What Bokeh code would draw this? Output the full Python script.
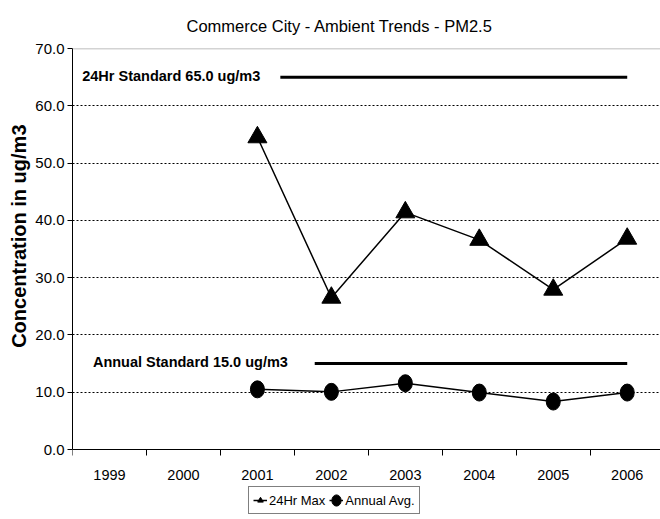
from bokeh.plotting import figure
from bokeh.embed import file_html
from bokeh.resources import INLINE
from bokeh.models import (Range1d, FixedTicker, NumeralTickFormatter, Label, Span, Title,
                          Legend, LegendItem, ColumnDataSource)

# ---- data ----
years = ["1999", "2000", "2001", "2002", "2003", "2004", "2005", "2006"]
data_years = ["2001", "2002", "2003", "2004", "2005", "2006"]
max_24hr = [54.5, 26.5, 41.4, 36.6, 27.9, 36.8]
annual_avg = [10.5, 10.06, 11.57, 9.94, 8.37, 9.94]
std_24hr = 65.0
std_annual = 15.0
std_24hr_span = ["2001", "2006"]
std_annual_span = ["2001", "2006"]
y_ticks = [0, 10, 20, 30, 40, 50, 60, 70]

FONT = "Liberation Sans"
idx = {y: i for i, y in enumerate(years)}
xs = [idx[y] for y in data_years]

PX_PER_UNIT = (449 - 48) / 70.0
y_bottom = -(519 - 449) / PX_PER_UNIT

p = figure(width=660, height=519, x_range=Range1d(-0.5, 7.45), y_range=Range1d(y_bottom, 70),
           output_backend="svg", toolbar_location=None,
           min_border_left=72, min_border_right=0, min_border_top=48, min_border_bottom=0)
p.outline_line_color = None
p.background_fill_color = "white"
p.border_fill_color = "white"

# chart title
p.title.text = "Commerce City - Ambient Trends - PM2.5"
p.title.text_font = FONT
p.title.text_font_size = "16.5px"
p.title.text_font_style = "normal"
p.title.text_color = "black"
p.title.align = "left"
p.title.offset = 114
p.title.standoff = 28

# y axis title as a left-side Title so it can be shifted along the axis
ytitle = Title(text="Concentration in ug/m3", align="right", offset=76, standoff=6,
               text_font=FONT, text_font_style="bold", text_font_size="20px",
               text_color="black")
p.add_layout(ytitle, "left")

# grid
p.xgrid.visible = False
p.ygrid.ticker = FixedTicker(ticks=y_ticks[1:-1])
p.ygrid.grid_line_color = "black"
p.ygrid.grid_line_dash = "2 2"
p.ygrid.grid_line_width = 1

# top border line
p.add_layout(Span(location=70, dimension="width", line_color="#a8a8a8", line_width=1.5))

# y axis
p.yaxis.bounds = (0, 70)
p.yaxis.ticker = FixedTicker(ticks=y_ticks)
p.yaxis.formatter = NumeralTickFormatter(format="0.0")
p.yaxis.major_label_text_font = FONT
p.yaxis.major_label_text_font_size = "15px"
p.yaxis.major_label_text_color = "black"
p.yaxis.major_tick_in = 0
p.yaxis.major_tick_out = 5
p.yaxis.minor_tick_line_color = None
p.yaxis.axis_line_color = "black"
p.yaxis.major_tick_line_color = "black"
p.yaxis.major_label_standoff = 3

# x axis (drawn at y = 0)
p.xaxis.fixed_location = 0
p.xaxis.ticker = FixedTicker(ticks=list(range(len(years))),
                             minor_ticks=[i - 0.5 for i in range(len(years) + 1)])
p.xaxis.major_label_overrides = {i: y for i, y in enumerate(years)}
p.xaxis.major_label_text_font = FONT
p.xaxis.major_label_text_font_size = "14.5px"
p.xaxis.major_label_text_color = "black"
p.xaxis.major_tick_line_color = None
p.xaxis.major_tick_in = 0
p.xaxis.major_tick_out = 6
p.xaxis.minor_tick_in = 0
p.xaxis.minor_tick_out = 6
p.xaxis.minor_tick_line_color = "black"
p.xaxis.axis_line_color = "black"
p.xaxis.major_label_standoff = 14

# standard lines
p.line([idx[std_24hr_span[0]] + 0.31, idx[std_24hr_span[1]]], [std_24hr, std_24hr],
       line_color="black", line_width=3)
p.line([idx[std_annual_span[0]] + 0.775, idx[std_annual_span[1]]], [std_annual, std_annual],
       line_color="black", line_width=3)

p.add_layout(Label(x=-0.369, y=std_24hr + 0.2, text="24Hr Standard %.1f ug/m3" % std_24hr,
                   text_font=FONT, text_font_style="bold", text_font_size="14.5px",
                   text_baseline="middle", text_color="black"))
p.add_layout(Label(x=-0.224, y=std_annual + 0.3, text="Annual Standard %.1f ug/m3" % std_annual,
                   text_font=FONT, text_font_style="bold", text_font_size="14.5px",
                   text_baseline="middle", text_color="black"))

# series
src = ColumnDataSource(dict(x=xs, m=max_24hr, a=annual_avg))
l1 = p.line("x", "m", source=src, line_color="black", line_width=1.5)
m1 = p.scatter("x", "m", source=src, marker="triangle", size=19,
               fill_color="black", line_color="black")
l2 = p.line("x", "a", source=src, line_color="black", line_width=1.5)
m2 = p.ellipse("x", "a", source=src, width=14, height=17, width_units="screen",
               height_units="screen", fill_color="black", line_color="black")

legend = Legend(items=[LegendItem(label="24Hr Max", renderers=[l1, m1]),
                       LegendItem(label="Annual Avg.", renderers=[l2, m2])],
                location=(176, 5), orientation="horizontal",
                border_line_color="black", border_line_width=1,
                padding=4, spacing=4, glyph_width=14, glyph_height=18, label_height=18,
                label_standoff=2, label_text_font=FONT, label_text_font_size="13px",
                label_text_color="black", margin=0, background_fill_color="white")
p.add_layout(legend)

open("out.html", "w").write(file_html(p, INLINE))
